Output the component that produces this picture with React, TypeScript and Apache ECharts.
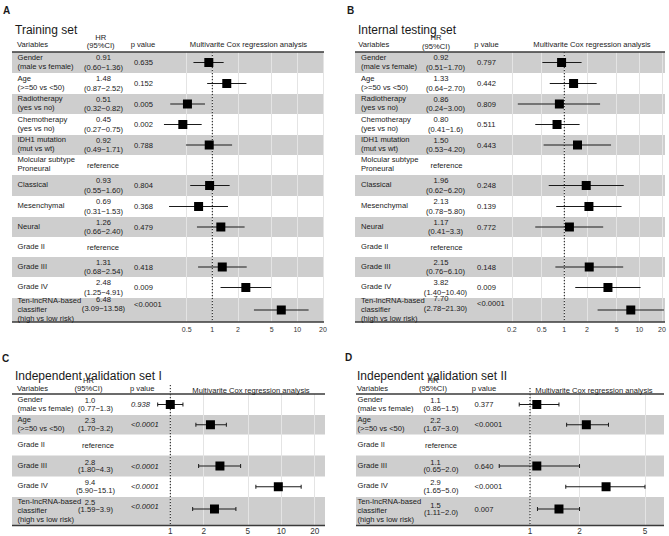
import React, { useEffect, useRef } from "react";
import * as echarts from "echarts";

const FONT = '"Liberation Sans", Arial, Helvetica, sans-serif';

// ---------- Panel A: Training set ----------
const trainVariables = [
  "Gender\n(male vs female)",
  "Age\n(>=50 vs <50)",
  "Radiotherapy\n(yes vs no)",
  "Chemotherapy\n(yes vs no)",
  "IDH1 mutation\n(mut vs wt)",
  "Molcular subtype\nProneural",
  "Classical",
  "Mesenchymal",
  "Neural",
  "Grade II",
  "Grade III",
  "Grade IV",
  "Ten-lncRNA-based\nclassifier\n(high vs low risk)",
];
const trainHR = ["0.91", "1.48", "0.51", "0.45", "0.92", "reference", "0.93", "0.69", "1.26", "reference", "1.31", "2.48", "6.48"];
const trainCI = ["0.60−1.36", "0.87−2.52", "0.32−0.82", "0.27−0.75", "0.49−1.71", "", "0.55−1.60", "0.31−1.53", "0.66−2.40", "", "0.68−2.54", "1.25−4.91", "3.09−13.58"];
const trainP = ["0.635", "0.152", "0.005", "0.002", "0.788", "", "0.804", "0.368", "0.479", "", "0.418", "0.009", "<0.0001"];
const trainTicks = [0.5, 1, 2, 5, 10, 20];

// ---------- Panel B: Internal testing set ----------
const internalVariables = trainVariables;
const internalHR = ["0.92", "1.33", "0.86", "0.80", "1.50", "reference", "1.96", "2.13", "1.17", "reference", "2.15", "3.82", "7.70"];
const internalCI = ["0.51−1.70", "0.64−2.70", "0.24−3.00", "0.41−1.6", "0.53−4.20", "", "0.62−6.20", "0.78−5.80", "0.41−3.3", "", "0.76−6.10", "1.40−10.40", "2.78−21.30"];
const internalP = ["0.797", "0.442", "0.809", "0.511", "0.443", "", "0.248", "0.139", "0.772", "", "0.148", "0.009", "<0.0001"];
const internalTicks = [0.2, 0.5, 1, 2, 5, 10, 20];

// ---------- Panel C: Independent validation set I ----------
const valid1Variables = [
  "Gender\n(male vs female)",
  "Age\n(>=50 vs <50)",
  "Grade II",
  "Grade III",
  "Grade IV",
  "Ten-lncRNA-based\nclassifier\n(high vs low risk)",
];
const valid1HR = ["1.0", "2.3", "reference", "2.8", "9.4", "2.5"];
const valid1CI = ["0.77−1.3", "1.70−3.2", "", "1.80−4.3", "5.90−15.1", "1.59−3.9"];
const valid1P = ["0.938", "<0.0001", "", "<0.0001", "<0.0001", "<0.0001"];
const valid1Ticks = [1, 2, 5, 10, 20];

// ---------- Panel D: Independent validation set II ----------
const valid2Variables = valid1Variables;
const valid2HR = ["1.1", "2.2", "reference", "1.1", "2.9", "1.5"];
const valid2CI = ["0.86−1.5", "1.67−3.0", "", "0.65−2.0", "1.65−5.0", "1.11−2.0"];
const valid2P = ["0.377", "<0.0001", "", "0.640", "<0.0001", "0.007"];
const valid2Ticks = [1, 2, 5];

// ---------- Layout ----------
const rowsAB = [21, 21, 20, 21, 20, 20, 21, 21, 20, 20, 20, 21, 24];
const rowsCD = [21, 19.5, 21, 21, 20.5, 28.5];

const panels = [
  {
    letter: "A", letterX: 3, letterY: 10,
    title: "Training set", titleX: 15, titleY: 29.5,
    left: 12, right: 324, top: 52, rowHeights: rowsAB, grayEven: true,
    varHeaderX: 17, varX: 17.5, headerY: 44.3,
    hrHeaderX: 100.7, hrHeaderY1: 37, hrHeaderY2: 45.5,
    hrX1: 103.5, hrX2: 103.5, refX: 103, hrGap: 9.5,
    pHeaderX: 130.7, pX: 134, multiX: 248.5, multiY: 44.3,
    axisMin: 0.2, axisMax: 20, onePx: 212.3, ppd: 85, labelMargin: 4, tickSize: 7,
    caps: false, italicP: false, dotExt: 0, lastDy: -6,
    variables: trainVariables, hr: trainHR, ci: trainCI, p: trainP, ticks: trainTicks,
  },
  {
    letter: "B", letterX: 347, letterY: 10,
    title: "Internal testing set", titleX: 358, titleY: 29.5,
    left: 355, right: 665, top: 52, rowHeights: rowsAB, grayEven: true,
    varHeaderX: 358.3, varX: 361, headerY: 44.3,
    hrHeaderX: 436, hrHeaderY1: 37.7, hrHeaderY2: 46.7,
    hrX1: 441, hrX2: 445.5, refX: 446.5, hrGap: 9.5,
    pHeaderX: 474.3, pX: 477, multiX: 592, multiY: 44.3,
    axisMin: 0.15, axisMax: 20, onePx: 564.3, ppd: 75, labelMargin: 4, tickSize: 7,
    caps: false, italicP: false, dotExt: 0, lastDy: -6.5,
    variables: internalVariables, hr: internalHR, ci: internalCI, p: internalP, ticks: internalTicks,
  },
  {
    letter: "C", letterX: 2, letterY: 358.5,
    title: "Independent validation set I", titleX: 15, titleY: 375.5,
    left: 12, right: 325, top: 394, rowHeights: rowsCD, grayEven: false,
    varHeaderX: 17, varX: 17.5, headerY: 388.3,
    hrHeaderX: 88.5, hrHeaderY1: 380.5, hrHeaderY2: 388.5,
    hrX1: 90, hrX2: 95.5, refX: 98, hrGap: 7.6,
    pHeaderX: 130, pX: 131, multiX: 251, multiY: 390,
    axisMin: 0.62, axisMax: 25, onePx: 170.3, ppd: 111, labelMargin: 1.5, tickSize: 8.2,
    caps: true, italicP: true, dotExt: 9, lastDy: -3,
    variables: valid1Variables, hr: valid1HR, ci: valid1CI, p: valid1P, ticks: valid1Ticks,
  },
  {
    letter: "D", letterX: 345, letterY: 357,
    title: "Independent validation set II", titleX: 357, titleY: 375.5,
    left: 356, right: 664, top: 394, rowHeights: rowsCD, grayEven: false,
    varHeaderX: 357, varX: 357.5, headerY: 388,
    hrHeaderX: 433, hrHeaderY1: 380.5, hrHeaderY2: 388.5,
    hrX1: 435.5, hrX2: 441, refX: 441, hrGap: 7.6,
    pHeaderX: 471.7, pX: 474.5, multiX: 594, multiY: 390,
    axisMin: 0.55, axisMax: 6.4, onePx: 530, ppd: 164.5, labelMargin: 1.5, tickSize: 8.2,
    caps: true, italicP: false, dotExt: 6, lastDy: 0,
    variables: valid2Variables, hr: valid2HR, ci: valid2CI, p: valid2P, ticks: valid2Ticks,
  },
];

const TEXT = "#1a1a1a";
const BAND = "#cecece";

function txt(x: number, y: number, text: string, o: any = {}) {
  const size = o.size || 7.6;
  const font = `${o.italic ? "italic" : "normal"} ${o.weight || "normal"} ${size}px ${FONT}`;
  return {
    type: "text",
    x,
    y,
    z: 10,
    silent: true,
    style: {
      text,
      font,
      fill: o.fill || TEXT,
      textAlign: o.align || "left",
      textVerticalAlign: "middle",
      align: o.align || "left",
      verticalAlign: "middle",
      lineHeight: o.lh || size,
    },
  };
}

function buildOption() {
  const grid: any[] = [];
  const xAxis: any[] = [];
  const yAxis: any[] = [];
  const series: any[] = [];
  const elements: any[] = [];

  panels.forEach((p, i) => {
    const total = p.rowHeights.reduce((a, b) => a + b, 0);
    const plotLeft = p.onePx + Math.log10(p.axisMin) * p.ppd;
    const plotRight = p.onePx + Math.log10(p.axisMax) * p.ppd;
    grid.push({ left: plotLeft, top: p.top, width: plotRight - plotLeft, height: total, containLabel: false });
    const tickVals = p.ticks.map((t) => Math.log10(t));
    xAxis.push({
      type: "value",
      gridIndex: i,
      min: Math.log10(p.axisMin),
      max: Math.log10(p.axisMax),
      axisLine: { show: false },
      axisTick: { show: false, customValues: tickVals },
      axisLabel: {
        customValues: tickVals,
        formatter: (v: number) => String(Number(Math.pow(10, v).toPrecision(3))),
        fontSize: p.tickSize,
        fontFamily: FONT,
        color: "#333",
        margin: p.labelMargin,
      },
      splitLine: { show: true, lineStyle: { color: "#e4e4e4", width: 1 } },
    });
    yAxis.push({ type: "value", gridIndex: i, inverse: true, min: 0, max: total, show: false });

    // headers
    elements.push(txt(p.letterX, p.letterY, p.letter, { size: 10, weight: "bold" }));
    elements.push(txt(p.titleX, p.titleY, p.title, { size: 12 }));
    elements.push(txt(p.varHeaderX, p.headerY, "Variables"));
    elements.push(txt(p.hrHeaderX, p.hrHeaderY1, "HR", { align: "center" }));
    elements.push(txt(p.hrHeaderX, p.hrHeaderY2, "(95%CI)", { align: "center" }));
    elements.push(txt(p.pHeaderX, p.headerY, "p value"));
    elements.push(txt(p.multiX, p.multiY, "Multivarite Cox regression analysis", { align: "center" }));

    // rows
    const data: number[][] = [];
    let y = p.top;
    const last = p.rowHeights.length - 1;
    p.rowHeights.forEach((h, r) => {
      const top = y;
      y += h;
      const center = top + h / 2;
      const mark = top + Math.min(h / 2, 12);
      const textY = mark + (r === last ? p.lastDy : 0);
      const gray = (r % 2 === 0) === p.grayEven;
      if (gray) {
        elements.push({
          type: "rect",
          z: -5,
          silent: true,
          shape: { x: p.left, y: top, width: p.right - p.left, height: h },
          style: { fill: BAND },
        });
      }
      elements.push(txt(p.varX, center - 1, p.variables[r], { lh: 9 }));
      if (p.hr[r] === "reference") {
        elements.push(txt(p.refX, center, "reference", { align: "center" }));
      } else {
        elements.push(txt(p.hrX1, textY - p.hrGap / 2, p.hr[r], { align: "center" }));
        elements.push(txt(p.hrX2, textY + p.hrGap / 2, "(" + p.ci[r] + ")", { align: "center" }));
        elements.push(txt(p.pX, textY, p.p[r], { italic: p.italicP }));
        const [lo, hi] = p.ci[r].split("−").map(Number);
        data.push([Math.log10(lo), Math.log10(parseFloat(p.hr[r])), Math.log10(hi), mark - p.top]);
      }
    });

    // top & bottom rules
    elements.push({
      type: "line", z: 6, silent: true,
      shape: { x1: p.left, y1: p.top, x2: p.right, y2: p.top },
      style: { stroke: "#3a3a3a", lineWidth: 1.6 },
    });
    elements.push({
      type: "line", z: 6, silent: true,
      shape: { x1: p.left, y1: p.top + total, x2: p.right, y2: p.top + total },
      style: { stroke: "#3a3a3a", lineWidth: 1.6 },
    });

    // reference line at HR = 1
    series.push({
      type: "line",
      xAxisIndex: i,
      yAxisIndex: i,
      data: [[0, -p.dotExt], [0, total]],
      symbol: "none",
      clip: false,
      silent: true,
      z: 3,
      lineStyle: { color: "#111", width: 1, type: [1.2, 1.8] },
    });

    const caps = p.caps;
    series.push({
      type: "custom",
      xAxisIndex: i,
      yAxisIndex: i,
      data,
      encode: { x: [0, 1, 2], y: 3 },
      silent: true,
      z: 4,
      renderItem: (_params: any, api: any) => {
        const yv = api.value(3);
        const a = api.coord([api.value(0), yv]);
        const b = api.coord([api.value(2), yv]);
        const c = api.coord([api.value(1), yv]);
        const children: any[] = [
          { type: "line", shape: { x1: a[0], y1: a[1], x2: b[0], y2: b[1] }, style: { stroke: "#1a1a1a", lineWidth: 1 } },
        ];
        if (caps) {
          children.push({ type: "line", shape: { x1: a[0], y1: a[1] - 2, x2: a[0], y2: a[1] + 2 }, style: { stroke: "#1a1a1a", lineWidth: 1 } });
          children.push({ type: "line", shape: { x1: b[0], y1: b[1] - 2, x2: b[0], y2: b[1] + 2 }, style: { stroke: "#1a1a1a", lineWidth: 1 } });
        }
        children.push({ type: "rect", shape: { x: c[0] - 4.5, y: c[1] - 4.5, width: 9, height: 9 }, style: { fill: "#000" } });
        return { type: "group", children };
      },
    });
  });

  return {
    animation: false,
    backgroundColor: "#ffffff",
    grid,
    xAxis,
    yAxis,
    series,
    graphic: { elements },
  };
}

export default function App() {
  const ref = useRef<HTMLDivElement>(null);
  useEffect(() => {
    document.body.style.margin = "0";
    if (!ref.current) return;
    const chart = echarts.init(ref.current, undefined, { renderer: "svg" });
    chart.setOption(buildOption() as any);
    return () => chart.dispose();
  }, []);
  return <div ref={ref} style={{ width: 669, height: 536 }} />;
}
